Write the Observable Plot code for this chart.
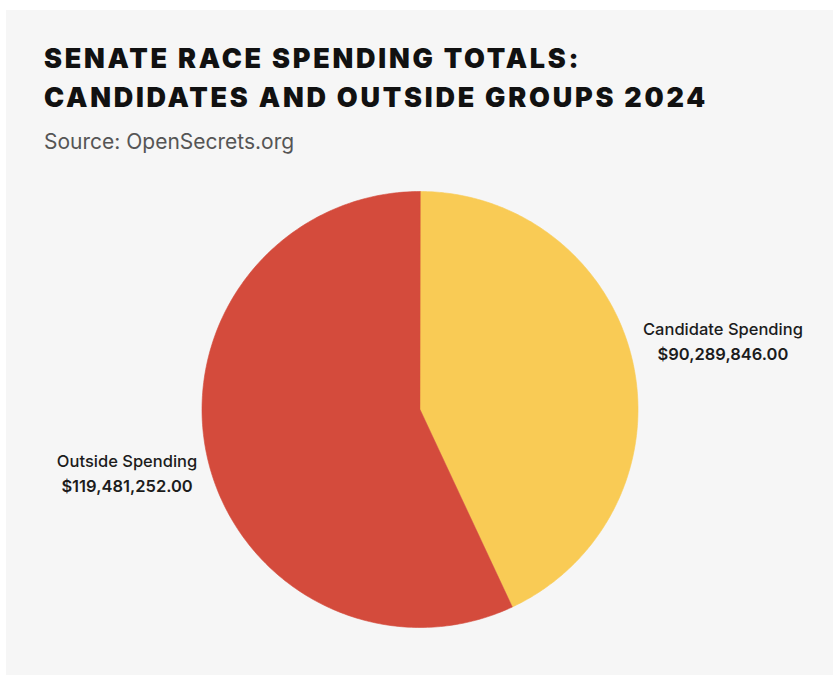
<!DOCTYPE html>
<html>
<head>
<meta charset="utf-8">
<script src="https://cdn.jsdelivr.net/npm/d3@7"></script>
<script src="https://cdn.jsdelivr.net/npm/@observablehq/plot@0.6"></script>
<style>
  html, body { margin: 0; padding: 0; background: #ffffff; }
  body { width: 833px; height: 675px; position: relative; overflow: hidden; font-family: Inter, "Noto Sans", sans-serif; }
  #panel { position: absolute; left: 6px; top: 10px; right: 0; bottom: 0; background: #f6f6f6; }
  #title { position: absolute; left: 44px; top: 38.7px; margin: 0; font-size: 27px; line-height: 39px; font-weight: 900; color: #111; letter-spacing: 2.75px; white-space: nowrap; }
  #subtitle { position: absolute; left: 44px; top: 130.4px; margin: 0; font-size: 21px; line-height: 24px; font-weight: 400; color: #555; white-space: nowrap; }
  #chart { position: absolute; left: 0; top: 170px; }
</style>
</head>
<body>
<div id="panel"></div>
<h1 id="title">SENATE RACE SPENDING TOTALS:<br>CANDIDATES AND OUTSIDE GROUPS 2024</h1>
<div id="subtitle">Source: OpenSecrets.org</div>
<div id="chart"></div>
<script>
const categories = ["Candidate Spending", "Outside Spending"];
const amounts = [90289846.00, 119481252.00];
const colors = ["#f9cb55", "#d44b3c"];

const data = categories.map((c, i) => ({label: c, value: amounts[i]}));
const arcs = d3.pie().sort(null).value(d => d.value)(data);

// polygon outline of each slice (center + arc), in unit-circle coordinates
const pts = [];
for (const a of arcs) {
  pts.push({label: a.data.label, x: 0, y: 0});
  const n = 240;
  for (let i = 0; i <= n; i++) {
    const t = a.startAngle + (a.endAngle - a.startAngle) * i / n;
    pts.push({label: a.data.label, x: Math.sin(t), y: Math.cos(t)});
  }
}
const labelR = 1.4;
const labels = arcs.map(a => {
  const m = (a.startAngle + a.endAngle) / 2;
  return {label: a.data.label, amount: d3.format("$,.2f")(a.data.value), x: labelR * Math.sin(m), y: labelR * Math.cos(m)};
});

const chart = Plot.plot({
  width: 833,
  height: 480,
  marginLeft: 201.5,
  marginRight: 195.5,
  marginTop: 21,
  marginBottom: 23,
  style: {background: "transparent", overflow: "visible", fontFamily: "Inter, 'Noto Sans', sans-serif"},
  x: {domain: [-1, 1], axis: null},
  y: {domain: [-1, 1], axis: null},
  color: {domain: categories, range: colors},
  marks: [
    Plot.line(pts, {x: "x", y: "y", z: "label", fill: "label", stroke: "label", strokeWidth: 0.6, curve: "linear-closed", clip: false}),
    Plot.text(labels, {x: "x", y: "y", text: "label", dx: 5, dy: -14, fontSize: 16.5, fontWeight: 500, fill: "#1c1c1c"}),
    Plot.text(labels, {x: "x", y: "y", text: "amount", dx: 5, dy: 11, fontSize: 16.5, fontWeight: 600, fill: "#1c1c1c"})
  ]
});
document.getElementById("chart").appendChild(chart);
</script>
</body>
</html>
